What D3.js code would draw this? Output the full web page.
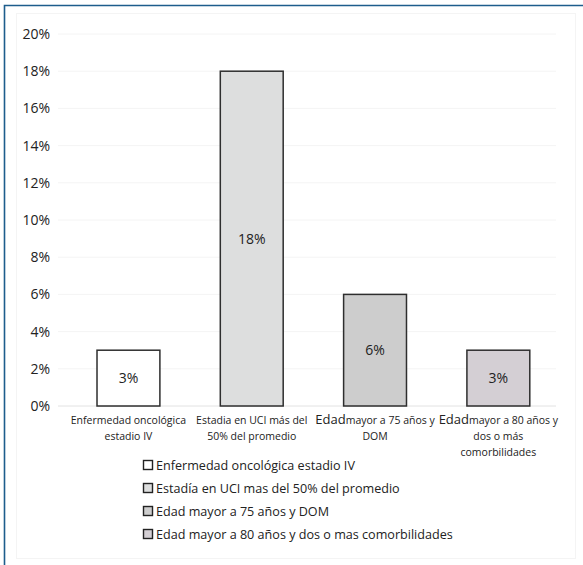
<!DOCTYPE html>
<html>
<head>
<meta charset="utf-8">
<script src="https://cdn.jsdelivr.net/npm/d3@7"></script>
<style>
  body { margin: 0; background: #fff; }
  text { font-family: "Open Sans", "Noto Sans", sans-serif; fill: #222; }
</style>
</head>
<body>
<div id="chart"></div>
<script>
// data
var categories = ["Enfermedad oncológica estadio IV", "Estadia en UCI más del 50% del promedio",
                  "Edad mayor a 75 años y DOM", "Edad mayor a 80 años y dos o más comorbilidades"];
var values = [3, 18, 6, 3];
var axisLines = [
  ["Enfermedad oncológica", "estadio IV"],
  ["Estadia en UCI más del", "50% del promedio"],
  ["Edad|mayor a 75 años y", "DOM"],
  ["Edad|mayor a 80 años y", "dos o más", "comorbilidades"]
];
var legendLabels = ["Enfermedad oncológica estadio IV", "Estadía en UCI mas del 50% del promedio",
                    "Edad mayor a 75 años y DOM", "Edad mayor a 80 años y dos o mas comorbilidades"];
var yTicks = [0, 2, 4, 6, 8, 10, 12, 14, 16, 18, 20];
var fills = ["#ffffff", "#dddede", "#cdcdcd", "#d4cfd4"];

var W = 583, H = 565;

var svg = d3.select("#chart").append("svg")
  .attr("width", W).attr("height", H);

// outer frame (top + left only) and faint inner box
svg.append("rect").attr("x", 16.5).attr("y", 13.5).attr("width", 559).attr("height", 545)
  .attr("fill", "none").attr("stroke", "#f4f4f4");
svg.append("path").attr("d", "M4.5,565 V5.5 H583")
  .attr("fill", "none").attr("stroke", "#1d5d8c").attr("stroke-width", 1.6);

var x = d3.scaleBand()
  .domain(categories)
  .range([66.8, 560])
  .paddingInner(0.49)
  .paddingOuter(0.245);

var y = d3.scaleLinear()
  .domain([0, 20])
  .range([406, 34]);

// grid
svg.append("g").selectAll("line")
  .data(yTicks.filter(function(d) { return d > 0; }))
  .enter().append("line")
    .attr("x1", 58).attr("x2", 556)
    .attr("y1", function(d) { return y(d); })
    .attr("y2", function(d) { return y(d); })
    .attr("stroke", "#f4f4f4");

svg.append("line").attr("x1", 58).attr("x2", 556)
  .attr("y1", y(0)).attr("y2", y(0)).attr("stroke", "#e2e2e2");

// y axis labels
var yAxis = d3.axisLeft(y).tickValues(yTicks)
  .tickFormat(function(d) { return d + "%"; })
  .tickSize(0).tickPadding(8);

var ya = svg.append("g").attr("transform", "translate(58,0)").call(yAxis);
ya.select(".domain").remove();
ya.selectAll("text").attr("font-size", "14px").attr("fill", "#222")
  .style("font-family", "'Open Sans', sans-serif");

// bars
svg.append("g").selectAll("rect")
  .data(values)
  .enter().append("rect")
    .attr("x", function(d, i) { return x(categories[i]); })
    .attr("y", function(d) { return y(d); })
    .attr("width", x.bandwidth())
    .attr("height", function(d) { return y(0) - y(d); })
    .attr("fill", function(d, i) { return fills[i]; })
    .attr("stroke", "#2e2e2e")
    .attr("stroke-width", 1.5);

svg.append("g").selectAll("text")
  .data(values)
  .enter().append("text")
    .attr("x", function(d, i) { return x(categories[i]) + x.bandwidth() / 2; })
    .attr("y", function(d) { return (y(d) + y(0)) / 2; })
    .attr("dy", "0.35em")
    .attr("text-anchor", "middle")
    .attr("font-size", "14px")
    .text(function(d) { return d + "%"; });

// category labels
var cat = svg.append("g").selectAll("text")
  .data(axisLines)
  .enter().append("text")
    .attr("text-anchor", "middle")
    .attr("font-size", "10.5px");

cat.each(function(lines, i) {
  var t = d3.select(this);
  var cx = x(categories[i]) + x.bandwidth() / 2;
  lines.forEach(function(line, j) {
    var ts = t.append("tspan").attr("x", cx).attr("y", 424 + j * 16);
    if (line.indexOf("|") >= 0) {
      var parts = line.split("|");
      ts.append("tspan").attr("font-size", "13px").text(parts[0]);
      ts.append("tspan").text(parts[1]);
    } else {
      ts.text(line);
    }
  });
});

// legend
var legend = svg.append("g").attr("class", "legend");

legend.selectAll("rect")
  .data(legendLabels)
  .enter().append("rect")
    .attr("x", 143.5)
    .attr("y", function(d, i) { return 460.5 + i * 23; })
    .attr("width", 9).attr("height", 9)
    .attr("fill", function(d, i) { return fills[i]; })
    .attr("stroke", "#222").attr("stroke-width", 1.4);

legend.selectAll("text")
  .data(legendLabels)
  .enter().append("text")
    .attr("x", 156)
    .attr("y", function(d, i) { return 469.5 + i * 23; })
    .attr("font-size", "12.6px")
    .text(function(d) { return d; });
</script>
</body>
</html>
